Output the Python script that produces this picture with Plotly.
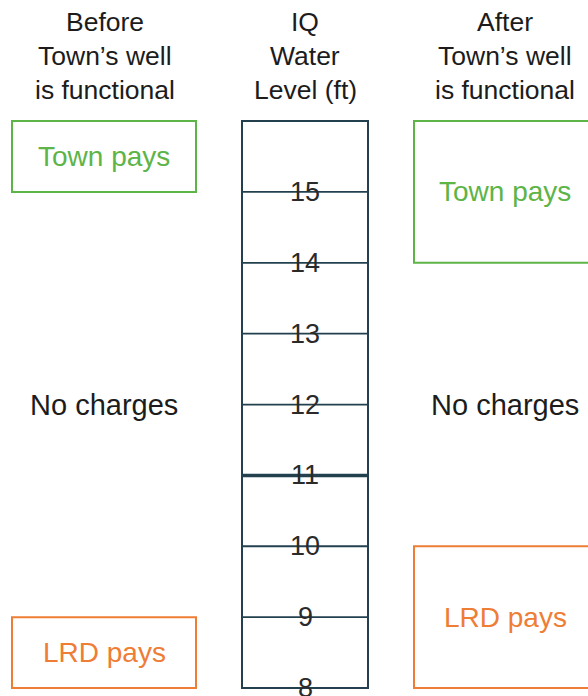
import plotly.graph_objects as go

# ---- data ----
levels = [8, 9, 10, 11, 12, 13, 14, 15]
level_top = 16
threshold_level = 11
headers = [["Before", "Town’s well", "is functional"],
           ["IQ", "Water", "Level (ft)"],
           ["After", "Town’s well", "is functional"]]
before_town = [15, 16]
before_lrd = [8, 9]
after_town = [14, 16]
after_lrd = [8, 10]
zone_labels = ["Town pays", "No charges", "LRD pays"]

# ---- layout constants (pixel-like x units) ----
W, H = 588, 696
FONT = "Liberation Sans"
GREEN = "#5db447"
ORANGE = "#ee7d35"
COL = "#23404f"
TXT = "#1c1c1c"
x_before = (12, 196)
x_col = (242, 368)
x_after = (414, 602)
ymin, ymax = 7.887, 17.709
header_rows_px = [22, 56, 90]

fig = go.Figure()
shapes = []
ann = []

# column
shapes.append(dict(type="rect", xref="x", yref="y", x0=x_col[0], x1=x_col[1],
                   y0=min(levels), y1=level_top, line=dict(color=COL, width=2)))
for lv in levels:
    w = 3.5 if lv == threshold_level else 1.8
    shapes.append(dict(type="line", xref="x", yref="y", x0=x_col[0], x1=x_col[1],
                       y0=lv, y1=lv, line=dict(color=COL, width=w)))
    ann.append(dict(x=(x_col[0] + x_col[1]) / 2, y=lv, xref="x", yref="y",
                    text=str(lv), showarrow=False, yanchor="middle",
                    font=dict(family=FONT, size=27, color="#2a2a2a")))

def zone_box(xr, yr, color, label):
    shapes.append(dict(type="rect", xref="x", yref="y", x0=xr[0], x1=xr[1],
                       y0=yr[0], y1=yr[1], line=dict(color=color, width=2)))
    ann.append(dict(x=(xr[0] + min(xr[1], 596)) / 2, y=(yr[0] + yr[1]) / 2,
                    xref="x", yref="y", text=label, showarrow=False,
                    font=dict(family=FONT, size=28, color=color)))

zone_box(x_before, before_town, GREEN, zone_labels[0])
zone_box(x_before, before_lrd, ORANGE, zone_labels[2])
zone_box(x_after, after_town, GREEN, zone_labels[0])
zone_box(x_after, after_lrd, ORANGE, zone_labels[2])

ann.append(dict(x=sum(x_before) / 2, y=(before_lrd[1] + before_town[0]) / 2,
                xref="x", yref="y", text=zone_labels[1], showarrow=False,
                font=dict(family=FONT, size=29, color=TXT)))
ann.append(dict(x=(x_after[0] + 596) / 2, y=(after_lrd[1] + after_town[0]) / 2,
                xref="x", yref="y", text=zone_labels[1], showarrow=False,
                font=dict(family=FONT, size=29, color=TXT)))

centers = [sum(x_before) / 2 + 1, sum(x_col) / 2, (x_after[0] + 596) / 2]
for cx, hdr in zip(centers, headers):
    for line, py in zip(hdr, header_rows_px):
        ann.append(dict(x=cx, y=1 - py / H, xref="x", yref="paper", text=line,
                        showarrow=False, yanchor="middle",
                        font=dict(family=FONT, size=26.5, color=TXT)))

fig.update_layout(
    width=W, height=H, margin=dict(l=0, r=0, t=0, b=0),
    paper_bgcolor="white", plot_bgcolor="white",
    xaxis=dict(range=[0, W], visible=False, fixedrange=True),
    yaxis=dict(range=[ymin, ymax], visible=False, fixedrange=True),
    shapes=shapes, annotations=ann, showlegend=False,
)
fig.write_html("out.html", config=dict(displayModeBar=False),
               post_script="document.body.style.margin='0';document.body.style.overflow='hidden';")
